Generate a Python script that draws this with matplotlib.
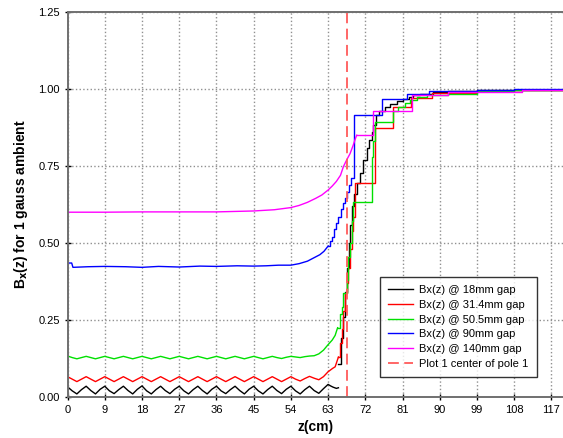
import numpy as np
import matplotlib
matplotlib.use("Agg")
import matplotlib.pyplot as plt

plt.rcParams['font.family'] = ['Liberation Sans', 'DejaVu Sans']

# sample grid for the flat (oscillating) part, 0..63 cm
z_osc = np.arange(0, 63.01, 1.125)

b18_osc = [0.033, 0.020, 0.010, 0.024, 0.035, 0.021, 0.010, 0.025,
           0.035, 0.020, 0.011, 0.024, 0.035, 0.021, 0.010, 0.025,
           0.036, 0.020, 0.010, 0.024, 0.035, 0.021, 0.011, 0.025,
           0.035, 0.020, 0.010, 0.024, 0.035, 0.021, 0.010, 0.025,
           0.035, 0.020, 0.011, 0.024, 0.035, 0.021, 0.010, 0.025,
           0.035, 0.020, 0.010, 0.024, 0.035, 0.021, 0.011, 0.025,
           0.035, 0.020, 0.010, 0.024, 0.035, 0.021, 0.012, 0.027,
           0.041]
b31_osc = [0.066, 0.058, 0.050, 0.058, 0.066, 0.058, 0.050, 0.058,
           0.066, 0.058, 0.050, 0.058, 0.066, 0.058, 0.050, 0.058,
           0.066, 0.058, 0.050, 0.058, 0.066, 0.058, 0.050, 0.058,
           0.066, 0.058, 0.050, 0.058, 0.066, 0.058, 0.050, 0.058,
           0.066, 0.058, 0.050, 0.058, 0.066, 0.058, 0.050, 0.058,
           0.066, 0.058, 0.050, 0.058, 0.066, 0.058, 0.050, 0.058,
           0.066, 0.058, 0.052, 0.060, 0.067, 0.061, 0.056, 0.066,
           0.082]
b50_osc = [0.133, 0.128, 0.124, 0.128, 0.132, 0.128, 0.124, 0.128,
           0.132, 0.128, 0.124, 0.128, 0.132, 0.128, 0.124, 0.128,
           0.132, 0.128, 0.124, 0.128, 0.132, 0.128, 0.124, 0.128,
           0.132, 0.128, 0.124, 0.128, 0.132, 0.128, 0.124, 0.128,
           0.132, 0.128, 0.124, 0.128, 0.132, 0.128, 0.124, 0.128,
           0.132, 0.128, 0.124, 0.128, 0.132, 0.128, 0.125, 0.129,
           0.132, 0.130, 0.128, 0.131, 0.133, 0.134, 0.140, 0.152,
           0.170]

# tails between the end of the oscillations and the first step
z18_tail = [63.6, 64.2, 65.0, 65.5]
b18_tail = [0.036, 0.032, 0.028, 0.030]
z31_tail = [64.1, 64.7, 65.5]
b31_tail = [0.093, 0.098, 0.130]
z50_tail = [64.0, 64.7, 65.3]
b50_tail = [0.185, 0.200, 0.225]

z90_smooth = [0, 0.1, 1.0, 1.3, 5, 9, 14, 18, 22, 27, 32, 36, 41, 45, 48,
              51, 54, 56, 58, 60, 61, 62, 63]
b90_smooth = [0.41, 0.435, 0.435, 0.421, 0.423, 0.424, 0.423, 0.421, 0.424,
              0.422, 0.425, 0.424, 0.426, 0.425, 0.426, 0.428, 0.428, 0.433,
              0.441, 0.455, 0.462, 0.473, 0.49]
z140_smooth = [0, 9, 18, 27, 36, 45, 50, 54, 56, 58, 60, 61.5, 63, 64, 65,
               66, 66.7, 67.5, 68.3, 69, 69.5, 69.9]
b140_smooth = [0.600, 0.600, 0.601, 0.601, 0.601, 0.604, 0.608, 0.615,
               0.622, 0.632, 0.645, 0.656, 0.672, 0.685, 0.700, 0.720,
               0.748, 0.770, 0.790, 0.815, 0.835, 0.850]

# step part (value holds from z to the next z)
z18_step = [65.5, 66.2, 66.6, 67.0, 67.5, 68.0, 68.4, 68.8, 69.3, 69.9, 70.6,
            71.5, 72.3, 72.9, 73.5, 73.9, 74.6, 75.2, 76.8, 78.0, 79.6, 81.2,
            82.5, 83.6, 85.2, 88.4, 92.0, 99.0, 108.0, 120.0]
b18_step = [0.108, 0.19, 0.26, 0.34, 0.42, 0.50, 0.56, 0.62, 0.66, 0.694,
            0.726, 0.77, 0.807, 0.834, 0.861, 0.883, 0.916, 0.930, 0.940,
            0.950, 0.960, 0.968, 0.975, 0.980, 0.985, 0.990, 0.993, 0.996,
            0.998, 0.999]
z31_step = [65.5, 65.9, 66.3, 66.7, 67.1, 67.5, 67.9, 68.3, 68.7, 69.1, 69.5,
            74.3, 78.6, 83.0, 88.0, 99.0, 108.0, 120.0]
b31_step = [0.13, 0.175, 0.22, 0.28, 0.337, 0.37, 0.42, 0.48, 0.54, 0.585,
            0.694, 0.872, 0.943, 0.970, 0.988, 0.995, 0.998, 1.0]
z50_step = [65.3, 65.9, 66.3, 66.7, 67.6, 67.9, 68.2, 68.7, 69.1, 73.5, 73.9,
            74.4, 78.7, 80.0, 81.5, 82.9, 84.4, 87.0, 92.0, 99.0, 108.0, 120.0]
b50_step = [0.225, 0.27, 0.293, 0.337, 0.38, 0.455, 0.50, 0.57, 0.634, 0.78,
            0.83, 0.894, 0.93, 0.943, 0.953, 0.963, 0.973, 0.98, 0.985, 0.993,
            0.997, 0.999]
z90_step = [63.0, 63.5, 64.0, 64.5, 65.0, 65.5, 66.0, 66.5, 67.0, 67.5, 68.0,
            68.6, 69.3, 76.0, 82.0, 87.5, 99.0, 108.0, 120.0]
b90_step = [0.49, 0.505, 0.52, 0.545, 0.565, 0.585, 0.61, 0.63, 0.645, 0.665,
            0.688, 0.71, 0.914, 0.966, 0.984, 0.993, 0.997, 0.999, 1.0]
z140_step = [69.9, 73.9, 83.2, 92.0, 110.0, 120.0]
b140_step = [0.850, 0.928, 0.980, 0.991, 0.996, 0.999]

labels = ['Bx(z) @ 18mm gap', 'Bx(z) @ 31.4mm gap', 'Bx(z) @ 50.5mm gap',
          'Bx(z) @ 90mm gap', 'Bx(z) @ 140mm gap']
colors = ['black', '#ff0000', '#00e000', '#0000ff', '#ff00ff']
pole_center = 67.5

series = [
    (list(z_osc) + z18_tail, b18_osc + b18_tail, z18_step, b18_step),
    (list(z_osc) + z31_tail, b31_osc + b31_tail, z31_step, b31_step),
    (list(z_osc) + z50_tail, b50_osc + b50_tail, z50_step, b50_step),
    (z90_smooth, b90_smooth, z90_step, b90_step),
    (z140_smooth, b140_smooth, z140_step, b140_step),
]

fig = plt.figure(figsize=(5.63, 4.38), dpi=100)
ax = fig.add_axes([0.12, 0.0936, 0.8815, 0.879])

for (zs, bs, zt, bt), c, lab in zip(series, colors, labels):
    ax.plot(zs, bs, color=c, lw=1.0, label=lab)
    ax.plot(zt, bt, color=c, lw=1.0, drawstyle='steps-post')

ax.axvline(pole_center, color='#ff5a5a', lw=1.3, ls=(0, (6, 3)),
           label='Plot 1 center of pole 1')

ax.set_xlim(0, 120)
ax.set_ylim(0, 1.25)
ax.set_xticks(np.arange(0, 118, 9))
ax.set_yticks([0, 0.25, 0.5, 0.75, 1.0, 1.25])
ax.yaxis.set_major_formatter(matplotlib.ticker.FormatStrFormatter('%.2f'))
ax.tick_params(labelsize=8, direction='inout', length=5, width=1, pad=3)
ax.grid(True, color='#909090', ls=':', lw=1.0)

for s in ['left', 'bottom', 'top', 'right']:
    ax.spines[s].set_color('#707070')
    ax.spines[s].set_linewidth(1.4)

ax.set_xlabel('z(cm)', fontsize=10, fontweight='bold', labelpad=4)
ax.set_ylabel('B$_\\mathbf{x}$(z) for 1 gauss ambient', fontsize=10,
              fontweight='bold', labelpad=6)

leg = ax.legend(loc='lower right', bbox_to_anchor=(0.946, 0.052),
                borderaxespad=0, fontsize=8, frameon=True, fancybox=False,
                edgecolor='black', handlelength=2.2, labelspacing=0.42,
                borderpad=0.75, handletextpad=0.6)
leg.get_frame().set_linewidth(1.0)

fig.savefig('out.png', dpi=100)
